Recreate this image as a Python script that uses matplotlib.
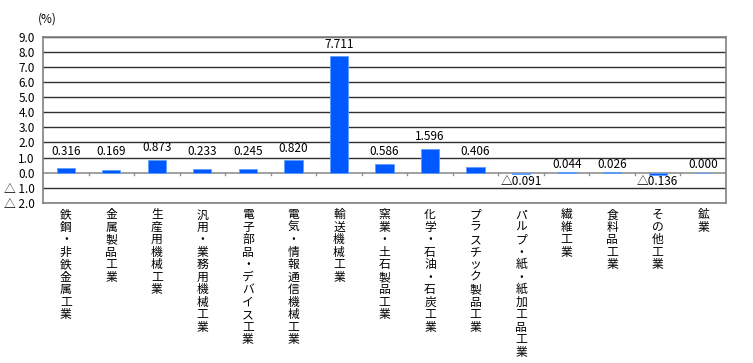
import matplotlib
matplotlib.use("Agg")
import matplotlib.pyplot as plt

plt.rcParams['font.family'] = ['Noto Sans CJK JP', 'DejaVu Sans']

# categories (drawn vertically, one character per line)
categories = ["鉄鋼・非鉄金属工業", "金属製品工業", "生産用機械工業", "汎用・業務用機械工業",
              "電子部品・デバイス工業", "電気・情報通信機械工業", "輸送機械工業", "窯業・土石製品工業",
              "化学・石油・石炭工業", "プラスチック製品工業", "パルプ・紙・紙加工品工業", "繊維工業",
              "食料品工業", "その他工業", "鉱業"]
values = [0.316, 0.169, 0.873, 0.233, 0.245, 0.820, 7.711, 0.586,
          1.596, 0.406, -0.091, 0.044, 0.026, -0.136, 0.000]
yticks = [-2, -1, 0, 1, 2, 3, 4, 5, 6, 7, 8, 9]


def fmt(v):
    if v < 0:
        return "△" + format(-v, ".3f")
    return format(v, ".3f")


def tick_fmt(v):
    if v < 0:
        return "△ " + format(-v, ".1f")
    return format(v, ".1f")


def label_y(v):
    # where the value label sits (centre), as in the original
    if v < 0:
        return -0.6
    if v < 0.1:
        return 0.55
    return max(v + 0.78, 1.42)


fig = plt.figure(figsize=(7.53, 3.63), dpi=100)
ax = fig.add_axes([43 / 753, (363 - 203) / 363, (726 - 43) / 753, 166.5 / 363])

x = list(range(len(categories)))
ax.bar(x, values, width=0.4, color='#0058FF', edgecolor='#5FA0FF', linewidth=0.6, zorder=3)

for xi, v in zip(x, values):
    ax.text(xi, label_y(v), fmt(v), ha='center', va='center', fontsize=8.5, color='black', zorder=4)

ax.set_xlim(-0.5, len(categories) - 0.5)
ax.set_ylim(-2, 9)
ax.set_yticks(yticks)
ax.set_yticklabels([tick_fmt(t) for t in yticks], fontsize=8.5)
ax.tick_params(axis='y', length=0, pad=6)

for t in yticks:
    if t == 0:
        continue
    ax.axhline(t, color='#303030', linewidth=1.0, zorder=1)
ax.axhline(0, color='#909090', linewidth=1.2, zorder=2)

# small ticks on zero line between categories
for b in range(1, len(categories)):
    ax.plot([b - 0.5, b - 0.5], [0, -0.17], color='#909090', linewidth=1.0, zorder=2)

ax.set_xticks([])
for s in ax.spines.values():
    s.set_color('#808080')
    s.set_linewidth(1.2)

for xi, c in zip(x, categories):
    ax.text(xi, -2.35, "\n".join(c), ha='center', va='top', fontsize=8.5,
            linespacing=0.95, color='black')

fig.text(47 / 753, 1 - 19 / 363, "(%)", ha='center', va='center', fontsize=8.5)

fig.savefig("out.png", dpi=100)
